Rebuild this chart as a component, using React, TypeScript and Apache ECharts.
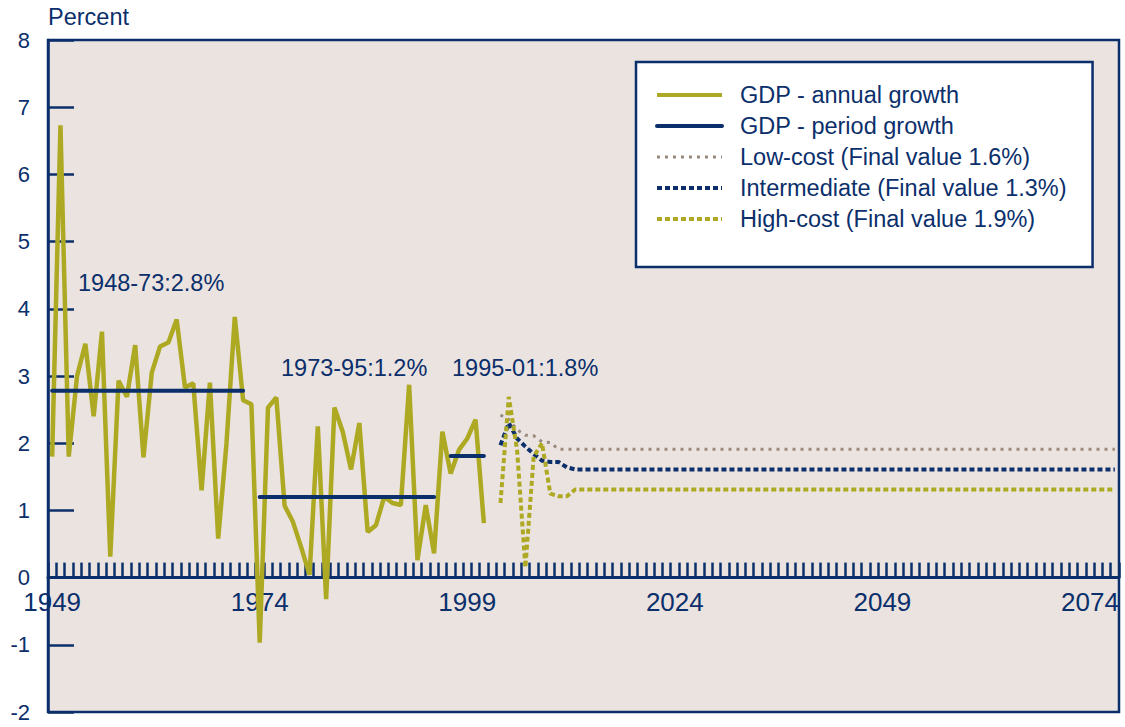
import React, { useEffect, useRef } from "react";
import * as echarts from "echarts";

const NAVY = "#0B2F6B";
const OLIVE = "#AEA923";
const GRAY = "#9A8A7C";
const BG = "#EAE3E0";
const FONT = "Liberation Sans, Arial, sans-serif";

const FIRST_YEAR = 1949;
const LAST_YEAR = 2077;
const years: string[] = [];
for (let y = FIRST_YEAR; y <= LAST_YEAR; y++) years.push(String(y));

// Annual growth, 1949-2001
const annualYears = [
  1949, 1950, 1951, 1952, 1953, 1954, 1955, 1956, 1957, 1958, 1959, 1960, 1961,
  1962, 1963, 1964, 1965, 1966, 1967, 1968, 1969, 1970, 1971, 1972, 1973, 1974,
  1975, 1976, 1977, 1978, 1979, 1980, 1981, 1982, 1983, 1984, 1985, 1986, 1987,
  1988, 1989, 1990, 1991, 1992, 1993, 1994, 1995, 1996, 1997, 1998, 1999, 2000,
  2001,
];
const annualGrowth = [
  1.8, 6.73, 1.8, 3.0, 3.48, 2.4, 3.66, 0.31, 2.93, 2.69, 3.46, 1.79, 3.05,
  3.44, 3.5, 3.84, 2.83, 2.89, 1.3, 2.9, 0.58, 2.0, 3.88, 2.64, 2.58, -0.97,
  2.53, 2.68, 1.07, 0.83, 0.45, 0.04, 2.25, -0.32, 2.53, 2.17, 1.61, 2.3, 0.68,
  0.78, 1.2, 1.11, 1.08, 2.87, 0.26, 1.08, 0.36, 2.17, 1.55, 1.9, 2.07, 2.35,
  0.81,
];

// Period growth segments: start year, end year, value
const periodStart = [1949, 1974, 1997];
const periodEnd = [1972, 1995, 2001];
const periodValue = [2.78, 1.2, 1.81];
const periodLabels = ["1948-73:2.8%", "1973-95:1.2%", "1995-01:1.8%"];

// Projections (sparse points, flat to the end)
const lowYears = [2003, 2004, 2005, 2006, 2007, 2008, 2009, 2010, 2077];
const lowValues = [2.42, 2.35, 2.2, 2.12, 2.11, 2.02, 2.01, 1.91, 1.91];
const midYears = [2003, 2004, 2005, 2006, 2007, 2008, 2009, 2010, 2011, 2012, 2077];
const midValues = [1.97, 2.3, 2.07, 1.95, 1.84, 1.74, 1.72, 1.72, 1.64, 1.61, 1.61];
const highYears = [2003, 2004, 2005, 2006, 2007, 2008, 2009, 2010, 2011, 2012, 2077];
const highValues = [1.11, 2.69, 1.9, 0.15, 1.8, 2.0, 1.25, 1.21, 1.21, 1.31, 1.31];

const seriesNames = [
  "GDP - annual growth",
  "GDP - period growth",
  "Low-cost (Final value 1.6%)",
  "Intermediate (Final value 1.3%)",
  "High-cost (Final value 1.9%)",
];

const Y_MIN = -2;
const Y_MAX = 8;
const GRID_TOP = 40;
const GRID_BOTTOM = 15;
const CHART_H = 727;

function toSeries(ys: number[], vs: number[]): (number | null)[] {
  const out: (number | null)[] = years.map(() => null);
  ys.forEach((y, i) => {
    out[y - FIRST_YEAR] = vs[i];
  });
  return out;
}

export default function App() {
  const ref = useRef<HTMLDivElement>(null);
  useEffect(() => {
    if (!ref.current) return;
    const chart = echarts.init(ref.current, undefined, { renderer: "svg" });

    const periodSegs = periodStart.map((s, i) => {
      const d: (number | null)[] = years.map(() => null);
      d[s - FIRST_YEAR] = periodValue[i];
      d[periodEnd[i] - FIRST_YEAR] = periodValue[i];
      return d;
    });

    // place the category axis on the zero line
    const plotH = CHART_H - GRID_TOP - GRID_BOTTOM;
    const zeroOffset = -plotH * (0 - Y_MIN) / (Y_MAX - Y_MIN);

    const option: any = {
      animation: false,
      backgroundColor: "#ffffff",
      textStyle: { fontFamily: FONT },
      grid: {
        left: 48,
        top: GRID_TOP,
        right: 6,
        bottom: GRID_BOTTOM,
        show: true,
        backgroundColor: BG,
        borderColor: NAVY,
        borderWidth: 2.5,
        containLabel: false,
        outerBoundsMode: "none",
      },
      legend: {
        left: 636,
        top: 62,
        orient: "vertical",
        data: seriesNames.map((n, i) => ({
          name: n,
          lineStyle: { width: i === 2 ? 3 : 4 },
        })),
        backgroundColor: "#ffffff",
        borderColor: NAVY,
        borderWidth: 2.5,
        padding: [21, 26, 36, 19],
        itemWidth: 65,
        itemHeight: 14,
        itemGap: 7,
        selectedMode: false,
        itemStyle: { opacity: 0 },
        textStyle: {
          fontSize: 23.5,
          color: NAVY,
          fontFamily: FONT,
          lineHeight: 24,
          padding: [0, 0, 0, 13],
        },
      },
      xAxis: {
        type: "category",
        data: years,
        boundaryGap: true,
        offset: zeroOffset,
        axisLine: { onZero: false, lineStyle: { color: NAVY, width: 3 } },
        axisTick: {
          show: true,
          inside: true,
          length: 15,
          interval: 0,
          lineStyle: { color: NAVY, width: 2.5 },
        },
        axisLabel: {
          interval: 24,
          margin: 14,
          fontSize: 26,
          lineHeight: 20,
          color: NAVY,
          fontFamily: FONT,
        },
        splitLine: { show: false },
      },
      yAxis: {
        type: "value",
        min: Y_MIN,
        max: Y_MAX,
        interval: 1,
        name: "Percent",
        nameLocation: "end",
        nameGap: 23,
        nameTextStyle: {
          fontSize: 23.5,
          color: NAVY,
          align: "left",
          verticalAlign: "middle",
          fontFamily: FONT,
        },
        axisLine: { show: true, lineStyle: { color: NAVY, width: 2.5 } },
        axisTick: {
          show: true,
          inside: true,
          length: 26,
          lineStyle: { color: NAVY, width: 2.5 },
        },
        axisLabel: {
          margin: 18,
          fontSize: 22,
          lineHeight: 16,
          color: NAVY,
          fontFamily: FONT,
        },
        splitLine: { show: false },
      },
      series: [
        {
          name: seriesNames[0],
          type: "line",
          data: toSeries(annualYears, annualGrowth),
          symbol: "none",
          z: 3,
          lineStyle: { color: OLIVE, width: 4.5 },
          itemStyle: { color: OLIVE },
        },
        ...periodSegs.map((d) => ({
          name: seriesNames[1],
          type: "line",
          data: d,
          connectNulls: true,
          symbol: "none",
          z: 4,
          lineStyle: { color: NAVY, width: 4, cap: "round" },
          itemStyle: { color: NAVY },
        })),
        {
          name: seriesNames[2],
          type: "line",
          data: toSeries(lowYears, lowValues),
          connectNulls: true,
          symbol: "none",
          z: 2,
          lineStyle: { color: GRAY, width: 3, type: [3, 5] },
          itemStyle: { color: GRAY },
        },
        {
          name: seriesNames[3],
          type: "line",
          data: toSeries(midYears, midValues),
          connectNulls: true,
          symbol: "none",
          z: 2,
          lineStyle: { color: NAVY, width: 4, type: [5, 3] },
          itemStyle: { color: NAVY },
        },
        {
          name: seriesNames[4],
          type: "line",
          data: toSeries(highYears, highValues),
          connectNulls: true,
          symbol: "none",
          z: 2,
          lineStyle: { color: OLIVE, width: 4, type: [5, 3] },
          itemStyle: { color: OLIVE },
        },
      ],
      graphic: [
        {
          type: "text",
          left: 78,
          top: 271,
          style: { text: periodLabels[0], fontSize: 23.5, fill: NAVY, fontFamily: FONT },
        },
        {
          type: "text",
          left: 281,
          top: 356,
          style: { text: periodLabels[1], fontSize: 23.5, fill: NAVY, fontFamily: FONT },
        },
        {
          type: "text",
          left: 452,
          top: 356,
          style: { text: periodLabels[2], fontSize: 23.5, fill: NAVY, fontFamily: FONT },
        },
      ],
    };
    chart.setOption(option);
    return () => chart.dispose();
  }, []);
  return (
    <div
      ref={ref}
      style={{ position: "fixed", left: 0, top: 0, width: 1125, height: 727 }}
    />
  );
}
